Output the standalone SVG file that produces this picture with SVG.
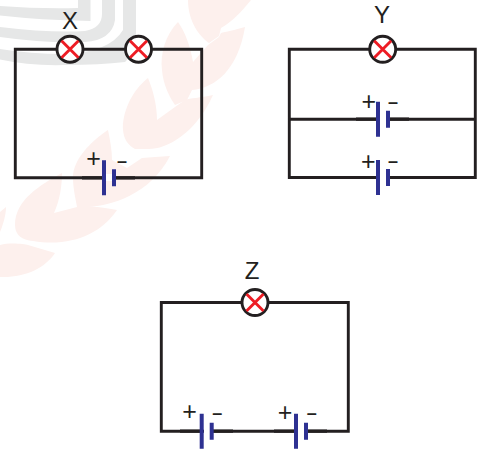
<svg xmlns="http://www.w3.org/2000/svg" width="484" height="450" viewBox="0 0 484 450">
<style>
.wm{fill:#fdf0ed}
.gb{fill:#e6e7e7}
.w{fill:none;stroke:#231f20;stroke-width:2.9;stroke-linejoin:miter}
.tw{fill:none;stroke:#231f20;stroke-width:3.2}
.b{fill:#fff;stroke:#231f20;stroke-width:2.9}
.x{stroke:#ed1c24;stroke-width:2.9;fill:none}
.p{stroke:#2e3192;stroke-width:4;fill:none}
.lb{font-family:"Liberation Sans",Arial,sans-serif;font-size:24px;fill:#231f20;text-anchor:middle}
.s{font-family:"Liberation Sans",Arial,sans-serif;font-size:25px;fill:#231f20;text-anchor:middle}
.m{font-family:"Liberation Sans",Arial,sans-serif;font-size:18px;font-weight:bold;fill:#231f20;text-anchor:middle}
</style>
<defs>
<g id="bulb"><circle r="13" class="b"/><path class="x" d="M-8.500 -8.500L8.500 8.500M8.500 -8.500L-8.500 8.500"/></g>
<g id="cell"><path class="p" d="M0 -17.500V17.500M10 -8.500V8.500"/></g>
</defs>
<g id="watermark">
<path class="gb" d="M0 6Q40 9 78 8V0H90.500V21Q40 20 0 15.500Z"/>
<path class="gb" d="M0 27Q50 33 85 31Q102 28 102 14V0H115V20Q112 40 85 42Q50 44 0 37Z"/>
<path class="gb" d="M0 49Q30 54 65 54Q110 52 123 30V0H136V34Q130 58 125 62Q100 65 65 65Q30 66 0 59.500Z"/>
<path class="wm" d="M188 0C188 20 198 35 209 43L219 36L221 28C232 22 243 10 251 0Z"/>
<path class="wm" d="M178 22C165 35 160 55 162 70C163 85 170 98 175 105L187 100L192 90C215 88 238 70 245 27C235 30 225 32 221 33L219 37L208 45L193 62C190 45 185 32 178 22Z"/>
<path class="wm" d="M148 78C130 92 122 115 123 130C124 140 128 145 135 149L147 149C165 150 195 135 213 95C200 98 190 98 185 100L175 107L157 120C157 105 153 90 148 78Z"/>
<path class="wm" d="M108 130C90 142 73 160 73 177C73 190 76 200 77 207L88 207C110 206 150 195 170 156C160 157 150 157 142 158L127 168L112 160C112 150 110 140 108 130Z"/>
<path class="wm" d="M62 173C40 185 15 200 15 225C15 235 22 240 33 241C70 247 100 235 117 210C105 208 95 206 88 207L77 207L54 213C60 200 62 185 62 173Z"/>
<path class="wm" d="M0 245C10 242 25 244 28 245L55 253C45 268 25 278 0 277Z"/>
<path class="wm" d="M0 212L6 207C6 215 3 225 0 232Z"/>
</g>
<g id="connectors">
<path class="w" d="M15.300 49.200H201.700V177.800H15.300Z"/>
<path class="tw" d="M82 177.800H104M114 177.800H135"/>
<path class="w" d="M289.300 49.300H475.300V177.500H289.300ZM289.300 119.200H475.300"/>
<path class="tw" d="M356 119.200H378M388 119.200H409M356 177.500H378M388 177.500H409"/>
<path class="w" d="M161.300 302.500H348.300V431.200H161.300Z"/>
<path class="tw" d="M180 431.200H202M212 431.200H233M274 431.200H296M306 431.200H327"/>
</g>
<g id="gaps" fill="#fff">
<rect x="106" y="174" width="6" height="7"/>
<rect x="380" y="115" width="6" height="8"/>
<rect x="380" y="174" width="6" height="7"/>
<rect x="204" y="427" width="6" height="8"/>
<rect x="298" y="427" width="6" height="8"/>
</g>
<g id="circuit-x">
<text class="lb" x="70" y="29">X</text>
<use href="#bulb" x="70" y="49.200"/>
<use href="#bulb" x="138.500" y="49.200"/>
<use href="#cell" x="104" y="177.700"/>
<text class="s" x="93.500" y="166.600">+</text>
<text class="m" x="122" y="166.500">–</text>
</g>
<g id="circuit-y">
<text class="lb" x="382" y="23">Y</text>
<use href="#bulb" x="382.700" y="49.300"/>
<use href="#cell" x="378" y="119.200"/>
<text class="s" x="368.700" y="110.300">+</text>
<text class="m" x="393" y="107.500">–</text>
<use href="#cell" x="378" y="177.500"/>
<text class="s" x="368.300" y="170.300">+</text>
<text class="m" x="393" y="166.500">–</text>
</g>
<g id="circuit-z">
<text class="lb" x="252" y="279">Z</text>
<use href="#bulb" x="255" y="302.500"/>
<use href="#cell" x="201.700" y="431.300"/>
<text class="s" x="189.500" y="420.300">+</text>
<text class="m" x="217.300" y="419">–</text>
<use href="#cell" x="296" y="431.300"/>
<text class="s" x="285" y="420.900">+</text>
<text class="m" x="311.700" y="419">–</text>
</g>
</svg>
